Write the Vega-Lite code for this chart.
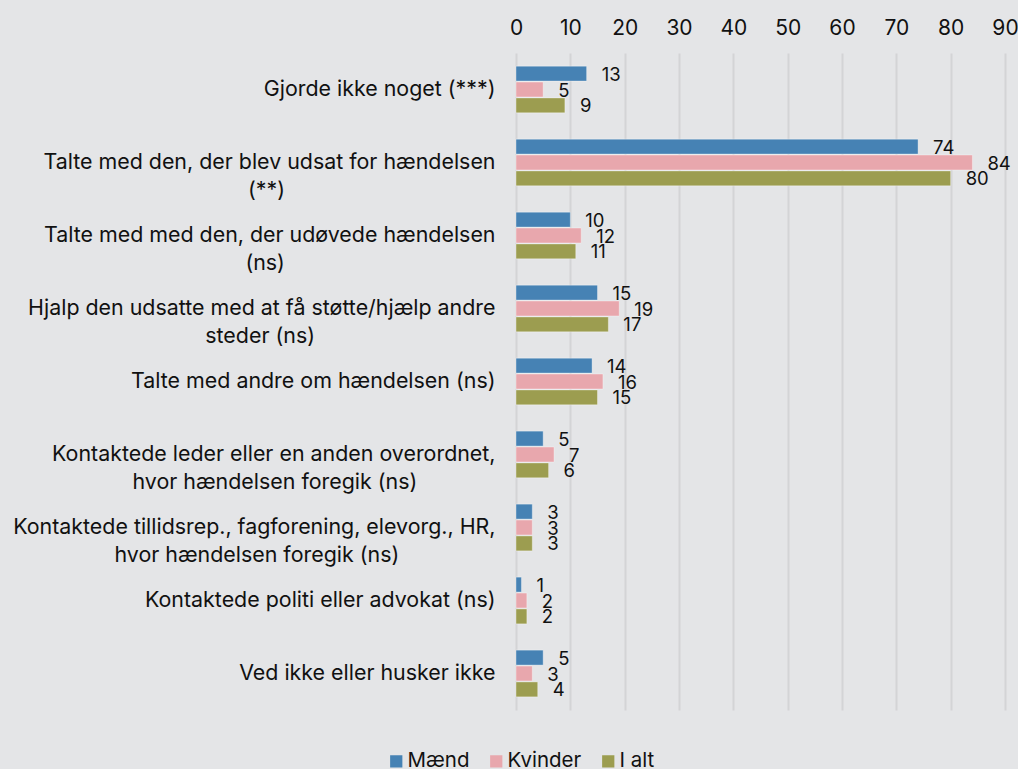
{
  "$schema": "https://vega.github.io/schema/vega-lite/v6.json",
  "autosize": {"type": "none"},
  "padding": {"left": 516, "top": 53, "right": 13, "bottom": 59},
  "width": 489,
  "height": 657,
  "background": "#e4e5e7",
  "config": {
    "font": "Inter",
    "view": {"stroke": null},
    "axis": {"labelFont": "Inter", "labelColor": "#111111"}
  },
  "data": {
    "values": [
      {"cat": "Gjorde ikke noget (***)", "g": "Mænd", "v": 13},
      {"cat": "Gjorde ikke noget (***)", "g": "Kvinder", "v": 5},
      {"cat": "Gjorde ikke noget (***)", "g": "I alt", "v": 9},
      {"cat": "Talte med den, der blev udsat for hændelsen|(**)\u00a0\u00a0\u00a0\u00a0\u00a0\u00a0\u00a0\u00a0\u00a0\u00a0\u00a0\u00a0\u00a0\u00a0\u00a0\u00a0\u00a0\u00a0\u00a0\u00a0\u00a0\u00a0\u00a0\u00a0\u00a0\u00a0\u00a0\u00a0\u00a0\u00a0\u00a0\u00a0\u00a0\u00a0\u00a0\u200b", "g": "Mænd", "v": 74},
      {"cat": "Talte med den, der blev udsat for hændelsen|(**)\u00a0\u00a0\u00a0\u00a0\u00a0\u00a0\u00a0\u00a0\u00a0\u00a0\u00a0\u00a0\u00a0\u00a0\u00a0\u00a0\u00a0\u00a0\u00a0\u00a0\u00a0\u00a0\u00a0\u00a0\u00a0\u00a0\u00a0\u00a0\u00a0\u00a0\u00a0\u00a0\u00a0\u00a0\u00a0\u200b", "g": "Kvinder", "v": 84},
      {"cat": "Talte med den, der blev udsat for hændelsen|(**)\u00a0\u00a0\u00a0\u00a0\u00a0\u00a0\u00a0\u00a0\u00a0\u00a0\u00a0\u00a0\u00a0\u00a0\u00a0\u00a0\u00a0\u00a0\u00a0\u00a0\u00a0\u00a0\u00a0\u00a0\u00a0\u00a0\u00a0\u00a0\u00a0\u00a0\u00a0\u00a0\u00a0\u00a0\u00a0\u200b", "g": "I alt", "v": 80},
      {"cat": "Talte med med den, der udøvede hændelsen|(ns)\u00a0\u00a0\u00a0\u00a0\u00a0\u00a0\u00a0\u00a0\u00a0\u00a0\u00a0\u00a0\u00a0\u00a0\u00a0\u00a0\u00a0\u00a0\u00a0\u00a0\u00a0\u00a0\u00a0\u00a0\u00a0\u00a0\u00a0\u00a0\u00a0\u00a0\u00a0\u00a0\u00a0\u00a0\u00a0\u200b", "g": "Mænd", "v": 10},
      {"cat": "Talte med med den, der udøvede hændelsen|(ns)\u00a0\u00a0\u00a0\u00a0\u00a0\u00a0\u00a0\u00a0\u00a0\u00a0\u00a0\u00a0\u00a0\u00a0\u00a0\u00a0\u00a0\u00a0\u00a0\u00a0\u00a0\u00a0\u00a0\u00a0\u00a0\u00a0\u00a0\u00a0\u00a0\u00a0\u00a0\u00a0\u00a0\u00a0\u00a0\u200b", "g": "Kvinder", "v": 12},
      {"cat": "Talte med med den, der udøvede hændelsen|(ns)\u00a0\u00a0\u00a0\u00a0\u00a0\u00a0\u00a0\u00a0\u00a0\u00a0\u00a0\u00a0\u00a0\u00a0\u00a0\u00a0\u00a0\u00a0\u00a0\u00a0\u00a0\u00a0\u00a0\u00a0\u00a0\u00a0\u00a0\u00a0\u00a0\u00a0\u00a0\u00a0\u00a0\u00a0\u00a0\u200b", "g": "I alt", "v": 11},
      {"cat": "Hjalp den udsatte med at få støtte/hjælp andre|steder (ns)\u00a0\u00a0\u00a0\u00a0\u00a0\u00a0\u00a0\u00a0\u00a0\u00a0\u00a0\u00a0\u00a0\u00a0\u00a0\u00a0\u00a0\u00a0\u00a0\u00a0\u00a0\u00a0\u00a0\u00a0\u00a0\u00a0\u00a0\u00a0\u00a0\u00a0\u200b", "g": "Mænd", "v": 15},
      {"cat": "Hjalp den udsatte med at få støtte/hjælp andre|steder (ns)\u00a0\u00a0\u00a0\u00a0\u00a0\u00a0\u00a0\u00a0\u00a0\u00a0\u00a0\u00a0\u00a0\u00a0\u00a0\u00a0\u00a0\u00a0\u00a0\u00a0\u00a0\u00a0\u00a0\u00a0\u00a0\u00a0\u00a0\u00a0\u00a0\u00a0\u200b", "g": "Kvinder", "v": 19},
      {"cat": "Hjalp den udsatte med at få støtte/hjælp andre|steder (ns)\u00a0\u00a0\u00a0\u00a0\u00a0\u00a0\u00a0\u00a0\u00a0\u00a0\u00a0\u00a0\u00a0\u00a0\u00a0\u00a0\u00a0\u00a0\u00a0\u00a0\u00a0\u00a0\u00a0\u00a0\u00a0\u00a0\u00a0\u00a0\u00a0\u00a0\u200b", "g": "I alt", "v": 17},
      {"cat": "Talte med andre om hændelsen (ns)", "g": "Mænd", "v": 14},
      {"cat": "Talte med andre om hændelsen (ns)", "g": "Kvinder", "v": 16},
      {"cat": "Talte med andre om hændelsen (ns)", "g": "I alt", "v": 15},
      {"cat": "Kontaktede leder eller en anden overordnet,|hvor hændelsen foregik (ns)\u00a0\u00a0\u00a0\u00a0\u00a0\u00a0\u00a0\u00a0\u00a0\u00a0\u00a0\u00a0\u00a0\u200b", "g": "Mænd", "v": 5},
      {"cat": "Kontaktede leder eller en anden overordnet,|hvor hændelsen foregik (ns)\u00a0\u00a0\u00a0\u00a0\u00a0\u00a0\u00a0\u00a0\u00a0\u00a0\u00a0\u00a0\u00a0\u200b", "g": "Kvinder", "v": 7},
      {"cat": "Kontaktede leder eller en anden overordnet,|hvor hændelsen foregik (ns)\u00a0\u00a0\u00a0\u00a0\u00a0\u00a0\u00a0\u00a0\u00a0\u00a0\u00a0\u00a0\u00a0\u200b", "g": "I alt", "v": 6},
      {"cat": "Kontaktede tillidsrep., fagforening, elevorg., HR,|hvor hændelsen foregik (ns)\u00a0\u00a0\u00a0\u00a0\u00a0\u00a0\u00a0\u00a0\u00a0\u00a0\u00a0\u00a0\u00a0\u00a0\u00a0\u00a0\u200b", "g": "Mænd", "v": 3},
      {"cat": "Kontaktede tillidsrep., fagforening, elevorg., HR,|hvor hændelsen foregik (ns)\u00a0\u00a0\u00a0\u00a0\u00a0\u00a0\u00a0\u00a0\u00a0\u00a0\u00a0\u00a0\u00a0\u00a0\u00a0\u00a0\u200b", "g": "Kvinder", "v": 3},
      {"cat": "Kontaktede tillidsrep., fagforening, elevorg., HR,|hvor hændelsen foregik (ns)\u00a0\u00a0\u00a0\u00a0\u00a0\u00a0\u00a0\u00a0\u00a0\u00a0\u00a0\u00a0\u00a0\u00a0\u00a0\u00a0\u200b", "g": "I alt", "v": 3},
      {"cat": "Kontaktede politi eller advokat (ns)", "g": "Mænd", "v": 1},
      {"cat": "Kontaktede politi eller advokat (ns)", "g": "Kvinder", "v": 2},
      {"cat": "Kontaktede politi eller advokat (ns)", "g": "I alt", "v": 2},
      {"cat": "Ved ikke eller husker ikke", "g": "Mænd", "v": 5},
      {"cat": "Ved ikke eller husker ikke", "g": "Kvinder", "v": 3},
      {"cat": "Ved ikke eller husker ikke", "g": "I alt", "v": 4}
    ]
  },
  "encoding": {
    "y": {
      "field": "cat",
      "type": "nominal",
      "sort": null,
      "scale": {"paddingInner": 0.36, "paddingOuter": 0.18},
      "axis": {
        "title": null,
        "domain": false,
        "ticks": false,
        "labelFontSize": 21.4,
        "labelPadding": 21,
        "labelLimit": 600,
        "labelLineHeight": 28,
        "labelExpr": "split(datum.label, '|')"
      }
    },
    "yOffset": {
      "field": "g",
      "type": "nominal",
      "sort": ["Mænd", "Kvinder", "I alt"],
      "scale": {"paddingInner": 0.06}
    },
    "x": {
      "field": "v",
      "type": "quantitative",
      "scale": {"domain": [0, 90], "nice": false},
      "axis": {
        "orient": "top",
        "title": null,
        "domain": false,
        "ticks": false,
        "values": [0, 10, 20, 30, 40, 50, 60, 70, 80, 90],
        "labelFontSize": 21,
        "labelPadding": 15,
        "grid": true,
        "gridColor": "#d3d4d6",
        "gridWidth": 2,
        "labelFlush": false
      }
    }
  },
  "layer": [
    {
      "mark": {"type": "bar", "stroke": "#ffffff", "strokeOpacity": 0.35, "strokeWidth": 1},
      "encoding": {
        "color": {
          "field": "g",
          "type": "nominal",
          "scale": {"domain": ["Mænd", "Kvinder", "I alt"], "range": ["#4682b4", "#e8a7ad", "#9c9d50"]},
          "legend": {
            "title": null,
            "orient": "none",
            "direction": "horizontal",
            "legendX": -130,
            "legendY": 698,
            "symbolType": "square",
            "symbolSize": 150,
            "symbolStrokeWidth": 0,
            "labelFontSize": 20.5,
            "labelFont": "Inter",
            "labelColor": "#111111",
            "labelOffset": 1,
            "columnPadding": 16
          }
        }
      }
    },
    {
      "mark": {"type": "text", "align": "left", "baseline": "middle", "dx": 15, "dy": 1, "fontSize": 18.5, "color": "#111111"},
      "encoding": {"text": {"field": "v", "type": "quantitative"}}
    }
  ]
}
